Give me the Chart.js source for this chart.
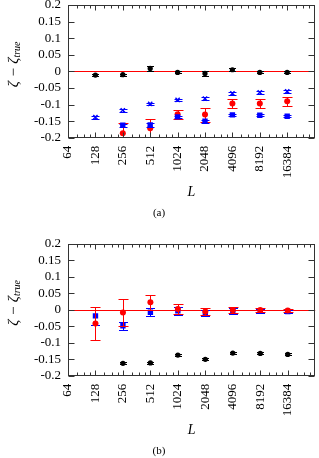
<!DOCTYPE html>
<html>
<head>
<meta charset="utf-8">
<script src="https://cdn.jsdelivr.net/npm/chart.js@4"></script>
<style>
  html, body { margin: 0; padding: 0; background: #fff; }
  canvas { display: block; }
</style>
</head>
<body>
<canvas id="chartA" width="319" height="220"></canvas>
<canvas id="chartB" width="319" height="238"></canvas>
<script>
const sizes = [128, 256, 512, 1024, 2048, 4096, 8192, 16384];
const xTicks = [64, 128, 256, 512, 1024, 2048, 4096, 8192, 16384];
const xRange = [64, 32768];
const yTicks = [-0.2, -0.15, -0.1, -0.05, 0, 0.05, 0.1, 0.15, 0.2];
const yTickLabels = ['-0.2', '-0.15', '-0.1', '-0.05', '0', '0.05', '0.1', '0.15', '0.2'];
const reference = 0;

// panel (a)
const aBlack = [-0.011, -0.010, 0.009, -0.003, -0.006, 0.005, -0.003, -0.003];
const aBlackErr = [0.003, 0.003, 0.008, 0.003, 0.008, 0.004, 0.003, 0.003];
const aBlueX = [-0.138, -0.117, -0.098, -0.086, -0.082, -0.066, -0.063, -0.060];
const aBlueXErr = [0.004, 0.004, 0.003, 0.004, 0.004, 0.005, 0.005, 0.005];
const aBlueSq = [null, -0.162, -0.161, -0.137, -0.150, -0.131, -0.132, -0.135];
const aBlueSqErr = [0, 0.005, 0.006, 0.004, 0.004, 0.003, 0.003, 0.003];
const aRed = [null, -0.186, -0.171, -0.129, -0.130, -0.097, -0.097, -0.090];
const aRedErr = [0, 0.031, 0.029, 0.013, 0.021, 0.014, 0.014, 0.014];

// panel (b)
const bBlack = [null, -0.162, -0.161, -0.137, -0.150, -0.131, -0.132, -0.135];
const bBlackErr = [0, 0.003, 0.003, 0.003, 0.003, 0.003, 0.003, 0.003];
const bRed = [-0.041, -0.008, 0.023, 0.003, -0.005, 0.000, 0.000, -0.002];
const bRedErr = [0.050, 0.041, 0.022, 0.015, 0.011, 0.008, 0.006, 0.004];
const bBlue = [-0.018, -0.048, -0.007, -0.003, -0.010, -0.003, -0.004, -0.005];
const bBlueErr = [0.028, 0.012, 0.013, 0.012, 0.009, 0.008, 0.006, 0.004];

const serif = '"Liberation Serif", "DejaVu Serif", serif';

function series(values, errors, color, pointStyle, radius, capWidth, filled) {
  return {
    data: sizes.map((x, i) => ({ x, y: values[i] })),
    errors, capWidth, errorColor: color,
    pointStyle, pointRadius: radius, pointHoverRadius: radius,
    pointBackgroundColor: filled ? color : 'transparent',
    pointBorderColor: color,
    pointBorderWidth: filled ? 0 : 1.4,
    showLine: false
  };
}

const errorBars = {
  id: 'errorBars',
  beforeDatasetDraw(chart, args) {
    const ds = chart.data.datasets[args.index];
    if (!ds.errors) return;
    const { ctx, chartArea: a, scales: { y } } = chart;
    ctx.save();
    ctx.beginPath();
    ctx.rect(a.left, a.top, a.width, a.height);
    ctx.clip();
    ctx.strokeStyle = ds.errorColor;
    ctx.lineWidth = 1;
    ctx.beginPath();
    args.meta.data.forEach((pt, i) => {
      const v = ds.data[i].y;
      if (v === null || !ds.errors[i]) return;
      const top = Math.round(y.getPixelForValue(v + ds.errors[i])) + 0.5;
      const bot = Math.round(y.getPixelForValue(v - ds.errors[i])) + 0.5;
      const x = Math.round(pt.x) + 0.5;
      const w = ds.capWidth / 2;
      ctx.moveTo(x, top); ctx.lineTo(x, bot);
      ctx.moveTo(x - w, top); ctx.lineTo(x + w, top);
      ctx.moveTo(x - w, bot); ctx.lineTo(x + w, bot);
    });
    ctx.stroke();
    ctx.restore();
  }
};

const frame = {
  id: 'frame',
  beforeDatasetsDraw(chart) {
    const { ctx, chartArea: a, scales: { y } } = chart;
    const py = Math.round(y.getPixelForValue(reference)) + 0.5;
    ctx.save();
    ctx.strokeStyle = '#ff0000';
    ctx.lineWidth = 1;
    ctx.beginPath();
    ctx.moveTo(a.left, py);
    ctx.lineTo(a.right, py);
    ctx.stroke();
    ctx.restore();
  },
  afterDraw(chart) {
    const { ctx, chartArea: a, scales: { x, y } } = chart;
    const L = Math.round(a.left) + 0.5, R = Math.round(a.right) - 0.5;
    const T = Math.round(a.top) + 0.5, B = Math.round(a.bottom) - 0.5;
    ctx.save();
    ctx.strokeStyle = '#333';
    ctx.lineWidth = 1;
    ctx.strokeRect(L, T, R - L, B - T);
    ctx.beginPath();
    xTicks.forEach(v => {
      const px = Math.round(x.getPixelForValue(v)) + 0.5;
      ctx.moveTo(px, B); ctx.lineTo(px, B - 5);
      ctx.moveTo(px, T); ctx.lineTo(px, T + 5);
      [1.25, 1.5, 1.75].forEach(m => {
        const q = Math.round(x.getPixelForValue(v * m)) + 0.5;
        ctx.moveTo(q, B); ctx.lineTo(q, B - 3);
        ctx.moveTo(q, T); ctx.lineTo(q, T + 3);
      });
    });
    yTicks.forEach(v => {
      const py = Math.round(y.getPixelForValue(v)) + 0.5;
      ctx.moveTo(L, py); ctx.lineTo(L + 6, py);
      ctx.moveTo(R, py); ctx.lineTo(R - 6, py);
    });
    ctx.stroke();

    // y axis title with subscript
    ctx.translate(14, (a.top + a.bottom) / 2 - 7);
    ctx.rotate(-Math.PI / 2);
    ctx.fillStyle = '#000';
    ctx.textBaseline = 'middle';
    const main = 'ζ − ζ', sub = 'true';
    ctx.font = 'italic 15px ' + serif;
    const wMain = ctx.measureText(main).width;
    ctx.font = 'italic 10px ' + serif;
    const wSub = ctx.measureText(sub).width;
    const start = -(wMain + wSub) / 2;
    ctx.font = 'italic 15px ' + serif;
    ctx.fillText(main, start, 0);
    ctx.font = 'italic 10px ' + serif;
    ctx.fillText(sub, start + wMain, 3);
    ctx.restore();
  }
};

function makeChart(id, datasets, caption, padTop) {
  return new Chart(document.getElementById(id), {
    type: 'scatter',
    data: { datasets },
    options: {
      responsive: false,
      animation: false,
      layout: { padding: { top: padTop, right: 1, left: 0, bottom: 0 } },
      plugins: {
        legend: { display: false },
        tooltip: { enabled: false },
        title: {
          display: true, text: caption, position: 'bottom', color: '#000',
          font: { family: serif, size: 11, weight: 'normal' }, padding: 0
        }
      },
      scales: {
        x: {
          type: 'logarithmic', min: xRange[0], max: xRange[1],
          afterBuildTicks: s => { s.ticks = xTicks.map(value => ({ value })); },
          afterFit: s => { s.height = 69; s.paddingLeft = 0; s.paddingRight = 0; },
          grid: { display: false, drawTicks: false },
          border: { display: false },
          ticks: {
            autoSkip: false, minRotation: 90, maxRotation: 90, padding: 8, color: '#000',
            font: { family: serif, size: 13 }, callback: v => String(v)
          },
          title: {
            display: true, text: 'L', color: '#000',
            font: { family: serif, size: 14, style: 'italic' }, padding: { top: 0, bottom: 6 }
          }
        },
        y: {
          min: -0.2, max: 0.2,
          afterBuildTicks: s => { s.ticks = yTicks.map(value => ({ value })); },
          afterFit: s => { s.width = 68; s.paddingTop = 0; s.paddingBottom = 0; },
          grid: { display: false, drawTicks: false },
          border: { display: false },
          ticks: {
            autoSkip: false, padding: 7, color: '#000', font: { family: serif, size: 13 },
            callback: (v, i) => yTickLabels[i]
          }
        }
      }
    },
    plugins: [frame, errorBars]
  });
}

makeChart('chartA', [
  series(aBlack, aBlackErr, '#000000', 'circle', 2.6, 7, true),
  series(aBlueX, aBlueXErr, '#0000ff', 'crossRot', 3, 8, false),
  series(aBlueSq, aBlueSqErr, '#0000ff', 'rect', 3.8, 8, true),
  series(aRed, aRedErr, '#ff0000', 'circle', 3, 10, true)
], '(a)', 5);

makeChart('chartB', [
  series(bBlack, bBlackErr, '#000000', 'circle', 2.6, 7, true),
  series(bRed, bRedErr, '#ff0000', 'circle', 3, 10, true),
  series(bBlue, bBlueErr, '#0000ff', 'rect', 3.8, 9, true)
], '(b)', 24);
</script>
</body>
</html>
